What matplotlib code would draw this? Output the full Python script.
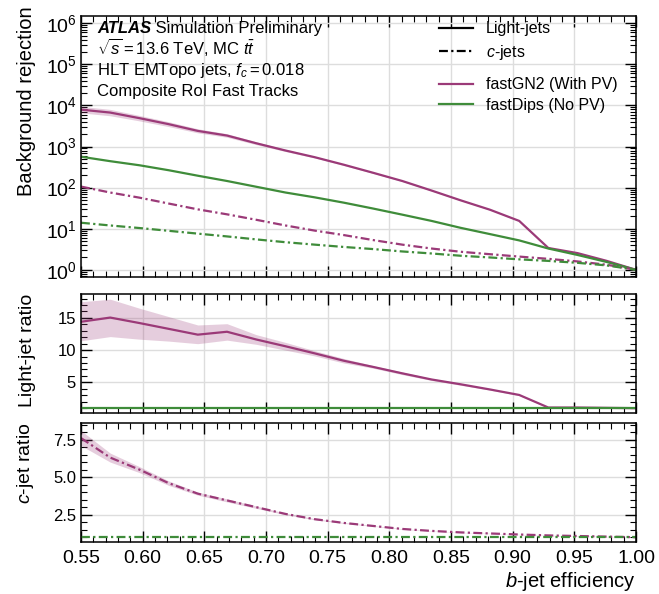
import numpy as np
import matplotlib
matplotlib.use("Agg")
import matplotlib.pyplot as plt
from matplotlib.ticker import MultipleLocator, LogLocator, NullFormatter
from matplotlib.lines import Line2D

plt.rcParams['font.family'] = ['Liberation Sans', 'DejaVu Sans']
plt.rcParams['mathtext.fontset'] = 'custom'
plt.rcParams['mathtext.rm'] = 'Liberation Sans'
plt.rcParams['mathtext.it'] = 'Liberation Sans:italic'
plt.rcParams['mathtext.bf'] = 'Liberation Sans:bold'

# b-jet efficiency working points
beff = [0.55, 0.5737, 0.5974, 0.6211, 0.6447, 0.6684, 0.6921, 0.7158, 0.7395, 0.7632,
        0.7868, 0.8105, 0.8342, 0.8579, 0.8816, 0.9053, 0.9289, 0.9526, 0.9763, 1.0]

# light-jet rejection
gn2_light = [7900, 6700, 4900, 3500, 2400, 1850, 1200, 800, 550, 360,
             230, 145, 85, 49, 29, 15.5, 3.4, 2.55, 1.65, 1.0]
gn2_light_hi = [9500, 8000, 5700, 4000, 2700, 2050, 1300, 850, 575, 375,
                238, 149, 87, 50, 29.6, 15.8, 3.45, 2.58, 1.66, 1.0]
gn2_light_lo = [6600, 5600, 4200, 3050, 2150, 1680, 1110, 755, 527, 346,
                222, 141, 83, 48, 28.4, 15.2, 3.35, 2.52, 1.64, 1.0]
dips_light = [565, 440, 350, 265, 195, 145, 105, 76, 58, 43,
              31, 22, 15.5, 10.5, 7.4, 5.2, 3.3, 2.3, 1.55, 1.0]

# c-jet rejection
gn2_c = [106, 76, 57, 41, 29.6, 22.4, 16.5, 12.0, 9.0, 7.0,
         5.3, 4.1, 3.3, 2.75, 2.4, 2.1, 1.85, 1.6, 1.33, 1.0]
dips_c = [14, 12, 10.4, 8.9, 7.6, 6.5, 5.5, 4.7, 4.1, 3.6,
          3.2, 2.8, 2.5, 2.2, 2.0, 1.8, 1.65, 1.48, 1.28, 1.0]

# ratios to fastDips
light_ratio = [14.4, 15.05, 14.2, 13.3, 12.4, 12.85, 11.65, 10.6, 9.5, 8.35,
               7.4, 6.4, 5.45, 4.7, 3.9, 3.05, 1.1, 1.1, 1.05, 1.0]
light_ratio_hi = [17.5, 17.9, 16.5, 15.2, 13.9, 14.1, 12.4, 11.2, 9.9, 8.7,
                  7.6, 6.6, 5.6, 4.85, 4.0, 3.15, 1.15, 1.15, 1.1, 1.0]
light_ratio_lo = [11.45, 12.1, 11.7, 11.4, 11.0, 11.55, 10.9, 10.0, 9.1, 8.0,
                  7.2, 6.2, 5.3, 4.55, 3.8, 2.95, 1.05, 1.05, 1.0, 1.0]
c_ratio = [7.6, 6.3, 5.5, 4.6, 3.9, 3.45, 3.0, 2.55, 2.2, 1.95,
           1.75, 1.55, 1.42, 1.32, 1.25, 1.18, 1.12, 1.08, 1.04, 1.0]
c_ratio_hi = [8.1, 6.6, 5.7, 4.75, 4.0, 3.55, 3.08, 2.6, 2.24, 1.98,
              1.77, 1.57, 1.43, 1.33, 1.26, 1.19, 1.13, 1.09, 1.05, 1.0]
c_ratio_lo = [7.1, 6.0, 5.3, 4.45, 3.8, 3.35, 2.92, 2.5, 2.16, 1.92,
              1.73, 1.53, 1.41, 1.31, 1.24, 1.17, 1.11, 1.07, 1.03, 1.0]
ones = [1.0] * len(beff)

purple = '#9b3a78'
green = '#3f8c3a'
dashdot = (0, (4, 1.5, 1, 1.5))

fig = plt.figure(figsize=(6.59, 5.94), dpi=100)
ax = fig.add_axes([0.1229, 0.5337, 0.8422, 0.4394])
ax2 = fig.add_axes([0.1229, 0.3047, 0.8422, 0.2003], sharex=ax)
ax3 = fig.add_axes([0.1229, 0.0875, 0.8422, 0.2003], sharex=ax)

# main panel
ax.fill_between(beff, gn2_light_lo, gn2_light_hi, color=purple, alpha=0.25, lw=0)
ax.plot(beff, gn2_light, color=purple, lw=1.6)
ax.plot(beff, dips_light, color=green, lw=1.6)
ax.plot(beff, gn2_c, color=purple, lw=1.6, linestyle=dashdot)
ax.plot(beff, dips_c, color=green, lw=1.6, linestyle=dashdot)
ax.set_yscale('log')
ax.set_ylim(0.67, 1.5e6)
ax.set_xlim(0.55, 1.0)
ax.yaxis.set_major_locator(LogLocator(base=10, numticks=10))
ax.yaxis.set_minor_locator(LogLocator(base=10, subs=np.arange(2, 10), numticks=20))
ax.yaxis.set_minor_formatter(NullFormatter())
ax.set_ylabel('Background rejection', fontsize=14.5, loc='top')
ax.yaxis.set_label_coords(-0.081, 1.035)

# light ratio panel
ax2.fill_between(beff, light_ratio_lo, light_ratio_hi, color=purple, alpha=0.25, lw=0)
ax2.plot(beff, light_ratio, color=purple, lw=1.6)
ax2.plot(beff, ones, color=green, lw=1.6)
ax2.set_ylim(0.25, 18.7)
ax2.yaxis.set_major_locator(MultipleLocator(5))
ax2.yaxis.set_minor_locator(MultipleLocator(1))
ax2.set_ylabel('Light-jet ratio', fontsize=14, loc='top')
ax2.yaxis.set_label_coords(-0.081, 1.0)

# c ratio panel
ax3.fill_between(beff, c_ratio_lo, c_ratio_hi, color=purple, alpha=0.25, lw=0)
ax3.plot(beff, c_ratio, color=purple, lw=1.6, linestyle=dashdot)
ax3.plot(beff, ones, color=green, lw=1.6, linestyle=dashdot)
ax3.set_ylim(0.68, 8.6)
ax3.yaxis.set_major_locator(MultipleLocator(2.5))
ax3.yaxis.set_minor_locator(MultipleLocator(0.5))
ax3.set_ylabel(r'$c$-jet ratio', fontsize=14, loc='top')
ax3.yaxis.set_label_coords(-0.081, 1.0)
ax3.set_xlabel(r'$b$-jet efficiency', fontsize=14.5, loc='right', labelpad=2)

for a in (ax, ax2, ax3):
    a.xaxis.set_major_locator(MultipleLocator(0.05))
    a.xaxis.set_minor_locator(MultipleLocator(0.01))
    a.tick_params(which='both', direction='in', top=True, right=True)
    a.tick_params(which='major', length=8, width=1)
    a.tick_params(which='minor', length=4, width=0.8)
    a.grid(True, which='major', color='#dddddd', lw=1)
    a.set_axisbelow(True)
    for s in a.spines.values():
        s.set_linewidth(1.1)
ax.tick_params(axis='y', which='major', labelsize=14, pad=3)
ax.tick_params(axis='x', labelbottom=False)
ax2.tick_params(axis='y', labelsize=12)
ax2.tick_params(axis='x', labelbottom=False)
ax3.tick_params(axis='y', labelsize=12)
ax3.tick_params(axis='x', labelsize=14, pad=6)
ax3.set_xticks([0.55, 0.60, 0.65, 0.70, 0.75, 0.80, 0.85, 0.90, 0.95, 1.00])
ax3.set_xticklabels(['0.55', '0.60', '0.65', '0.70', '0.75', '0.80', '0.85', '0.90', '0.95', '1.00'])

# labels in the main panel
t = ax.text(0.029, 0.933, 'ATLAS', transform=ax.transAxes, fontsize=12,
            fontweight='bold', style='italic', va='baseline')
ax.annotate(' Simulation Preliminary', xy=(1, 0), xycoords=t, fontsize=12,
            va='bottom', ha='left')
ax.text(0.029, 0.856, r'$\sqrt{s}=13.6$ TeV, MC $t\bar{t}$', transform=ax.transAxes,
        fontsize=12, va='baseline')
ax.text(0.029, 0.774, r'HLT EMTopo jets, $f_{c}=0.018$', transform=ax.transAxes,
        fontsize=12, va='baseline')
ax.text(0.029, 0.692, 'Composite RoI Fast Tracks', transform=ax.transAxes,
        fontsize=12, va='baseline')

# legends
h1 = [Line2D([], [], color='black', lw=1.6),
      Line2D([], [], color='black', lw=1.6, linestyle=dashdot)]
leg1 = ax.legend(h1, ['Light-jets', r'$c$-jets'], loc='upper left',
                 bbox_to_anchor=(0.62, 1.035), frameon=False, fontsize=11.5,
                 handlelength=2.1, handletextpad=0.8, labelspacing=0.4)
ax.add_artist(leg1)
h2 = [Line2D([], [], color=purple, lw=1.6), Line2D([], [], color=green, lw=1.6)]
ax.legend(h2, ['fastGN2 (With PV)', 'fastDips (No PV)'], loc='upper left',
          bbox_to_anchor=(0.62, 0.82), frameon=False, fontsize=11.5,
          handlelength=2.1, handletextpad=0.8, labelspacing=0.35)

fig.savefig('out.png', dpi=100)
